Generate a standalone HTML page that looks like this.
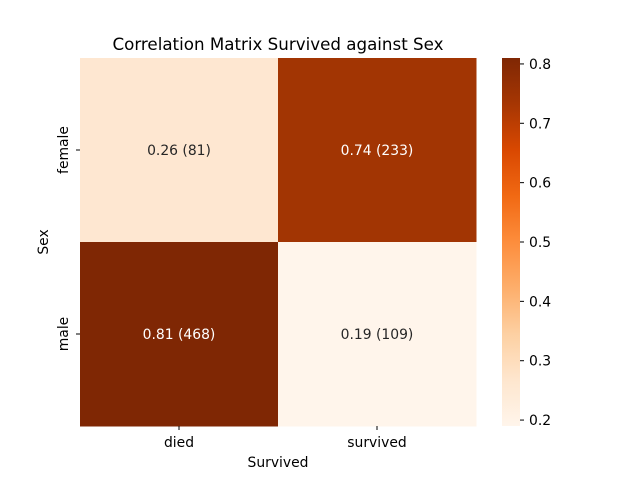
<!DOCTYPE html>
<html><head><meta charset="utf-8"><style>body{margin:0;background:#fff}svg text{font-family:"DejaVu Sans","Liberation Sans",sans-serif}</style></head>
<body>
<svg id="chart" width="640" height="480">
<defs><linearGradient id="cb" x1="0" y1="1" x2="0" y2="0">
<stop offset="0" stop-color="#fff5eb"/><stop offset="0.125" stop-color="#fee6ce"/><stop offset="0.25" stop-color="#fdd0a2"/><stop offset="0.375" stop-color="#fdae6b"/><stop offset="0.5" stop-color="#fd8d3c"/><stop offset="0.625" stop-color="#f16913"/><stop offset="0.75" stop-color="#d94801"/><stop offset="0.875" stop-color="#a63603"/><stop offset="1" stop-color="#7f2704"/></linearGradient></defs>
<text x="278" y="50" font-size="16.7" text-anchor="middle">Correlation Matrix Survived against Sex</text>
<g id="cells"></g>
<rect x="502" y="58" width="18" height="368" fill="url(#cb)"/>
<g id="axes" font-size="13.9"></g>
<text x="278" y="467" font-size="13.9" text-anchor="middle">Survived</text>
<text transform="translate(48,242) rotate(-90)" font-size="13.9" text-anchor="middle">Sex</text>
</svg>
<script>
const xCats=["died","survived"];
const yCats=["female","male"];
const values=[[0.26,0.74],[0.81,0.19]];
const counts=[[81,233],[468,109]];
const cbTicks=[0.2,0.3,0.4,0.5,0.6,0.7,0.8];
const vmin=0.19, vmax=0.81;
const L=80,T=58,W=396,H=368;
const stops=[[255,245,235],[254,230,206],[253,208,162],[253,174,107],[253,141,60],[241,105,19],[217,72,1],[166,54,3],[127,39,4]];
function cmap(v){let t=Math.max(0,Math.min(1,(v-vmin)/(vmax-vmin)))*8;let i=Math.min(7,Math.floor(t)),f=t-i;const a=stops[i],b=stops[i+1];return `rgb(${a.map((c,k)=>Math.round(c+(b[k]-c)*f)).join(',')})`;}
const ns="http://www.w3.org/2000/svg";
const cw=W/xCats.length,ch=H/yCats.length;
const g=document.getElementById('cells'),ax=document.getElementById('axes');
function mk(tag,attrs,parent){const e=document.createElementNS(ns,tag);for(const k in attrs)e.setAttribute(k,attrs[k]);parent.appendChild(e);return e;}
function cbY(v){return T+H-(v-vmin)/(vmax-vmin)*H;}
yCats.forEach((yc,r)=>xCats.forEach((xc,c)=>{
 const v=values[r][c];
 const rc=mk('rect',{x:L+c*cw,y:T+r*ch,width:cw+0.5,height:ch+0.5,fill:cmap(v)},g);
 
 
 const t=mk('text',{x:L+c*cw+cw/2,y:T+r*ch+ch/2+5,'font-size':13.9,'text-anchor':'middle',fill:v>0.5?'#fff':'#262626'},g);
 t.textContent=v.toFixed(2)+' ('+counts[r][c]+')';
 
 
}));
xCats.forEach((xc,c)=>{const x=L+c*cw+cw/2;mk('line',{x1:x,x2:x,y1:T+H,y2:T+H+4,stroke:'#000'},ax);
 const t=mk('text',{x:x,y:T+H+21,'text-anchor':'middle'},ax);t.textContent=xc;
 
 });
yCats.forEach((yc,r)=>{const y=T+r*ch+ch/2;mk('line',{x1:L-4,x2:L,y1:y,y2:y,stroke:'#000'},ax);
 const t=mk('text',{transform:`translate(${L-12},${y}) rotate(-90)`,'text-anchor':'middle'},ax);t.textContent=yc;
 
 });
cbTicks.forEach(v=>{const y=cbY(v);mk('line',{x1:520,x2:524,y1:y,y2:y,stroke:'#000'},ax);
 const t=mk('text',{x:529,y:y+5},ax);t.textContent=v.toFixed(1);
 
 });
</script>
</body></html>
